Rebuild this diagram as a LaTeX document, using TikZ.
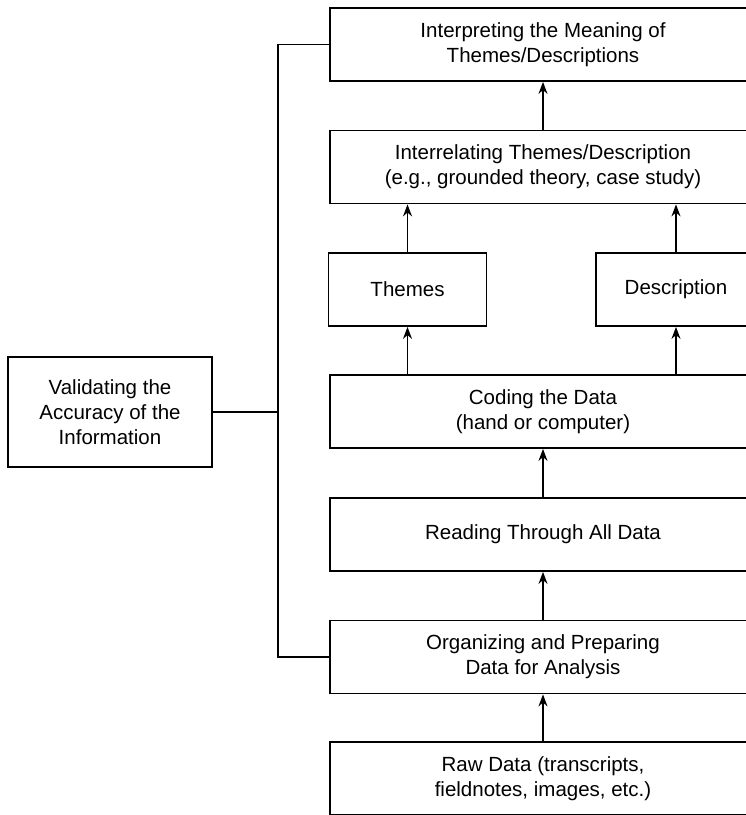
\documentclass[tikz,border=0pt]{standalone}
\usepackage{fontspec}
\setmainfont{Liberation Sans}
\usetikzlibrary{arrows.meta}

\begin{document}
\begin{tikzpicture}[x=1pt, y=-1pt, line width=1.8pt,
    stage/.style={draw, align=center, minimum width=426pt, minimum height=73pt,
        inner sep=0pt, font=\fontsize{20.5}{25}\selectfont},
    sidebox/.style={stage, minimum width=158pt},
    flow/.style={-{Stealth[length=12pt,width=9pt]}, line width=1.5pt}]
        \useasboundingbox (0,0) rectangle (746,815);
        \clip (0,0) rectangle (746,815);

        % Main stages
        \foreach \y/\name/\txt in {44.5/interp/{Interpreting the Meaning of\\ Themes/Descriptions},
            167/interrel/{Interrelating Themes/Description\\ (e.g., grounded theory, case study)},
            411.5/coding/{Coding the Data\\ (hand or computer)},
            534.5/reading/{Reading Through All Data},
            657/organize/{Organizing and Preparing\\ Data for Analysis},
            778.5/raw/{Raw Data (transcripts,\\ fieldnotes, images, etc.)}} {
            \node[stage] (\name) at (543,\y) {\txt};
        }

        % Themes and description
        \node[sidebox] (themes) at (407.5,289.5) {Themes};
        \node[sidebox, minimum width=160pt] (descr) at (676,289.5) {Description};

        % Validation
        \node[stage, minimum width=204pt, minimum height=110pt] (valid) at (110,412)
            {Validating the\\ Accuracy of the\\ Information};
        \coordinate (spine) at (278,412);
        \draw (interp.west) -| (spine) |- (organize.west);
        \draw (valid.east) -- (spine);

        % Arrows
        \draw[flow] (raw) -- (organize);
        \draw[flow] (organize) -- (reading);
        \draw[flow] (reading) -- (coding);
        \foreach \side in {themes, descr} {
            \draw[flow] (coding.north -| \side) -- (\side);
            \draw[flow] (\side) -- (\side |- interrel.south);
        }
        \draw[flow] (interrel) -- (interp);
    \end{tikzpicture}
\end{document}
